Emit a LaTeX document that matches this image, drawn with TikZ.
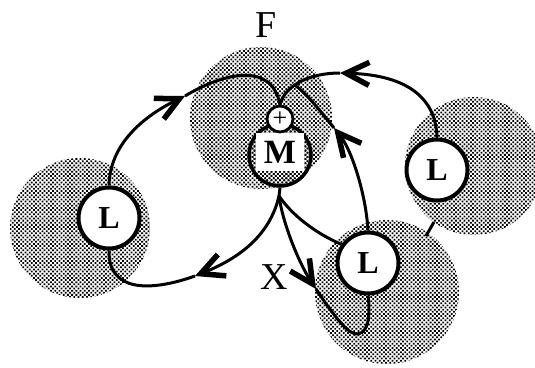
\documentclass[tikz,border=0pt]{standalone}
\usepackage{fontspec}
\setmainfont{Liberation Serif}
\usetikzlibrary{arrows.meta,patterns.meta}
\begin{document}
\begin{tikzpicture}[x=1pt,y=-1pt,
  stip/.style={pattern={Dots[radius=1.25pt,distance=3pt,angle=45]},pattern color=black},
  lnode/.style={circle,draw,line width=4pt,fill=white,minimum size=61pt,inner sep=0pt,font=\fontsize{32}{32}\selectfont\bfseries},
  conn/.style={line width=3pt},
  barb/.style={-{Straight Barb[length=23pt,width=23pt,line width=5.5pt]}},
  lbl/.style={font=\fontsize{38}{38}\selectfont}
]
\useasboundingbox (0,0) rectangle (535,367);
% stippled regions
\fill[stip] (261,118) circle (71pt);
\fill[stip] (80,228) circle (70pt);
\fill[stip] (474,166) circle (69pt);
\fill[stip] (387,292) circle (72pt);
% M complex
\node[circle,draw,line width=3.5pt,stip,minimum size=62pt,inner sep=0pt] (Mc) at (280,155) {};
\node[fill=white,minimum width=48pt,minimum height=38pt,inner sep=0pt,font=\fontsize{34}{34}\selectfont\bfseries] (M) at (280,152) {M};
\node[circle,draw,line width=2.8pt,fill=white,minimum size=26pt,inner sep=0pt,font=\fontsize{26}{26}\selectfont] (P) at (280,119) {+};
% L nodes
\node[lnode] (L1) at (109,218) {L};
\node[lnode] (L2) at (437,170) {L};
\node[lnode] (L3) at (368,263) {L};
% stem
\coordinate (J) at (279,196);
\draw[conn] (Mc.south) -- (J);
% connector 1
\coordinate (a1) at (185,96);
\draw[conn,barb] (L1.north) .. controls (110,140) and (150,113) .. (a1);
\draw[conn] (a1) .. controls (225,72) and (272,62) .. (P.north);
% connector 2
\coordinate (a2) at (340,73);
\draw[conn,barb] (L2.north) .. controls (436,100) and (410,75) .. (a2);
\draw[conn] (a2) .. controls (310,73) and (285,85) .. (P.north) coordinate[pos=0.6] (j3);
% connector 3
\coordinate (a3) at (334,128);
\draw[conn,barb] (L3.north) .. controls (366,195) and (352,150) .. (a3);
\draw[conn] (a3) .. controls (318,108) and (305,92) .. (j3);
% connector 4a
\coordinate (a4) at (195,276);
\draw[conn,barb] (J) .. controls (270,235) and (240,258) .. (a4);
\draw[conn] (a4) .. controls (150,292) and (108,292) .. (L1.south);
% connector 4b
\draw[conn] (J) .. controls (292,215) and (315,233) .. (L3.145);
% connector 4c
\coordinate (a5) at (316,289);
\draw[conn,barb] (J) .. controls (283,225) and (300,265) .. (a5);
\draw[conn] (a5) .. controls (335,318) and (350,336) .. (358,334) .. controls (370,332) and (370,310) .. (L3.south);
% small link between regions
\coordinate (s1) at (434,222);
\coordinate (s2) at (426,236);
\draw[conn] (s1) -- (s2);
% labels
\node[lbl] (F) at (266,25) {F};
\node[lbl] (X) at (274,277) {X};
\end{tikzpicture}
\end{document}
